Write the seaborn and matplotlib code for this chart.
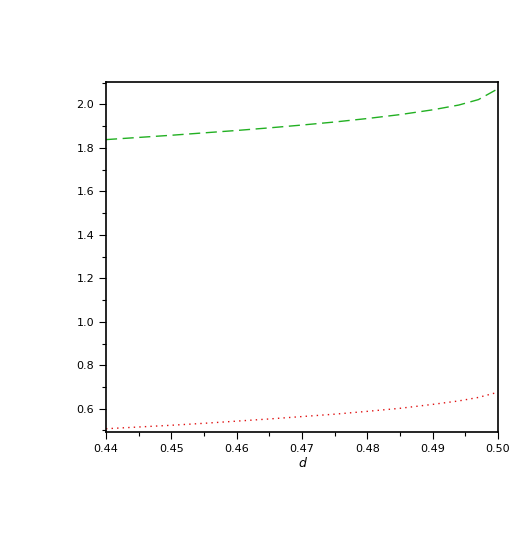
import numpy as np
import pandas as pd
import matplotlib
matplotlib.use("Agg")
import matplotlib.pyplot as plt
import seaborn as sns
from matplotlib.ticker import MultipleLocator

d_vals = [0.440, 0.445, 0.450, 0.455, 0.460, 0.465, 0.470, 0.475, 0.480, 0.485, 0.490, 0.494, 0.497, 0.500]
green_vals = [1.838, 1.848, 1.858, 1.869, 1.880, 1.892, 1.905, 1.919, 1.935, 1.953, 1.975, 1.997, 2.022, 2.072]
red_vals = [0.508, 0.516, 0.524, 0.533, 0.543, 0.553, 0.564, 0.575, 0.588, 0.602, 0.620, 0.636, 0.652, 0.676]

df = pd.DataFrame({"d": d_vals, "green": green_vals, "red": red_vals})

sns.set_style("white")
plt.rcParams['font.family'] = ['DejaVu Sans']
fig = plt.figure(figsize=(5.10, 5.36), dpi=100)
ax = fig.add_axes([106/510, 1-432/536, (498-106)/510, (432-82)/536])

sns.lineplot(data=df, x="d", y="green", ax=ax, color="#22b022", linewidth=1.0,
             linestyle=(0, (8, 4)))
sns.lineplot(data=df, x="d", y="red", ax=ax, color="#e01010", linewidth=1.0,
             linestyle=(0, (1, 3)))

ax.set_xlim(0.44, 0.50)
ax.set_ylim(0.493, 2.103)
ax.xaxis.set_minor_locator(MultipleLocator(0.005))
ax.yaxis.set_minor_locator(MultipleLocator(0.1))
ax.set_xticks(np.arange(0.44, 0.5001, 0.01))
ax.set_xticklabels(["0.44", "0.45", "0.46", "0.47", "0.48", "0.49", "0.50"])
ax.set_yticks(np.arange(0.6, 2.001, 0.2))
ax.set_yticklabels(["0.6", "0.8", "1.0", "1.2", "1.4", "1.6", "1.8", "2.0"])
ax.tick_params(which="major", direction="out", length=5, width=0.8, labelsize=8, color="black",
               labelcolor="black", left=True, bottom=True)
ax.tick_params(which="minor", direction="out", length=3, width=0.8, color="black",
               left=True, bottom=True)
for s in ax.spines.values():
    s.set_color("black")
    s.set_linewidth(1.2)
ax.set_xlabel("d", style="italic", fontsize=9, labelpad=2, color="black")
ax.set_ylabel("")

fig.savefig("out.png", dpi=100)
